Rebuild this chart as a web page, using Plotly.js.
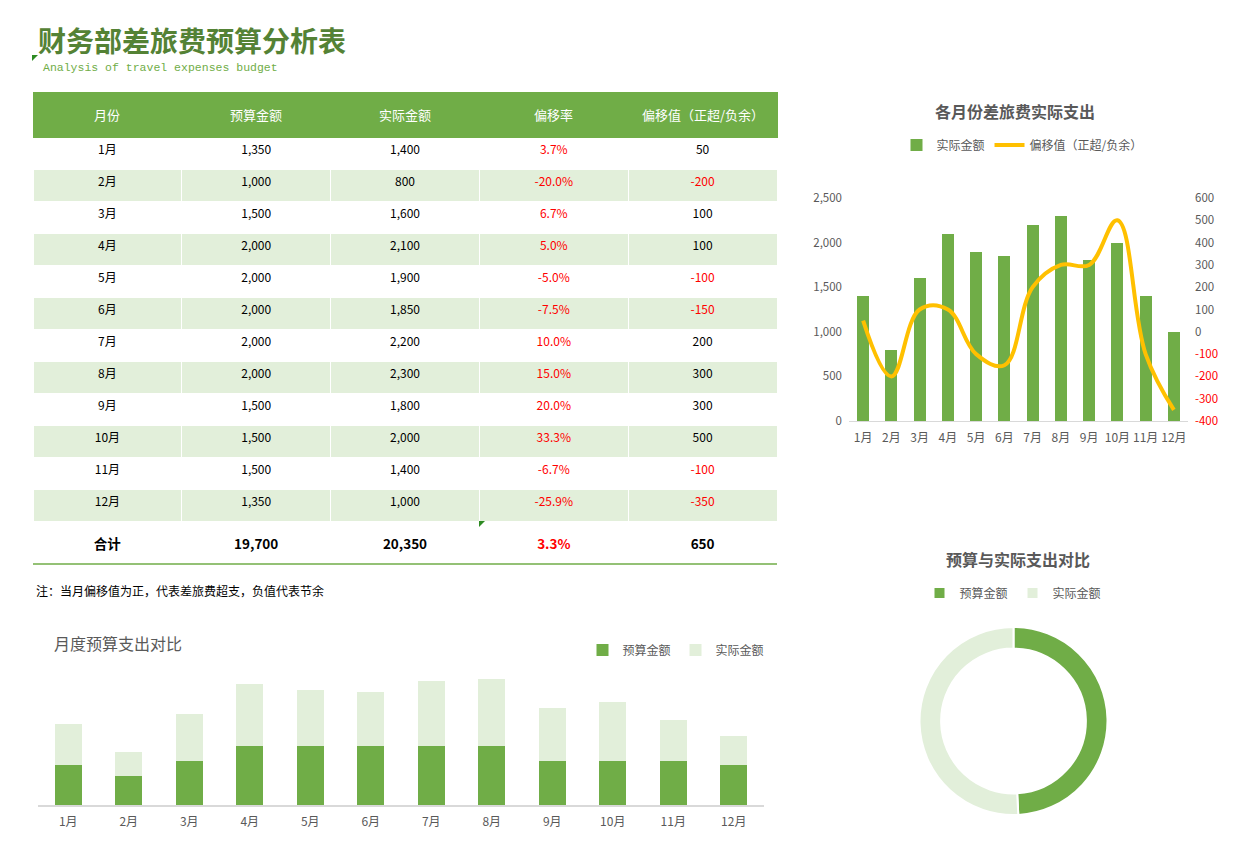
<!DOCTYPE html>
<html><head><meta charset="utf-8">
<script src="https://cdn.plot.ly/plotly-3.0.1.min.js"></script>
<style>html,body{margin:0;padding:0;background:#fff}#chart{width:1259px;height:865px}</style>
</head><body><div id="chart"></div>
<script>
// ---- data ----
const months = ['1月','2月','3月','4月','5月','6月','7月','8月','9月','10月','11月','12月'];
const budget = [1350,1000,1500,2000,2000,2000,2000,2000,1500,1500,1500,1350];
const actual = [1400,800,1600,2100,1900,1850,2200,2300,1800,2000,1400,1000];
const deviationRate = [3.7,-20.0,6.7,5.0,-5.0,-7.5,10.0,15.0,20.0,33.3,-6.7,-25.9];
const deviation = [50,-200,100,100,-100,-150,200,300,300,500,-100,-350];
const headers = ['月份','预算金额','实际金额','偏移率','偏移值（正超/负余）'];
const totalLabel = '合计';
const totalBudget = 19700;
const totalActual = 20350;
const totalRate = 3.3;
const totalDeviation = 650;
const rightTicks = [-400,-300,-200,-100,0,100,200,300,400,500,600];
const seriesNames = ['预算金额','实际金额','偏移值（正超/负余）'];

// ---- helpers ----
const W = 1259, H = 865;
const px = x => x / W;
const py = y => 1 - y / H;
const fmt = v => v.toLocaleString('en-US');
const pct = v => v.toFixed(1) + '%';
const FONT = '"Noto Sans CJK SC", "Noto Sans", sans-serif';
const GREEN = '#70ad47', LIGHT = '#e2efda', GREY = '#595959', RED = '#ff0000';

const TX0 = 33, TX1 = 777;
const colW = (TX1 - TX0) / headers.length;

const rowFill = months.map((m, i) => i % 2 === 0 ? '#ffffff' : LIGHT);
const blackCol = months.map(() => '#000000');
const rateCol = months.map(() => RED);
const devCol = deviation.map(v => v < 0 ? RED : '#000000');

const tableMain = {
  type: 'table',
  domain: {x: [px(TX0), px(TX1)], y: [py(523), py(92)]},
  columnwidth: [1,1,1,1,1],
  header: {
    values: headers.map(() => ''),
    height: 45,
    fill: {color: GREEN},
    line: {color: GREEN, width: 1},
    align: 'center',
    font: {family: FONT, size: 13, color: '#ffffff'}
  },
  cells: {
    values: [months, budget.map(fmt), actual.map(fmt), deviationRate.map(pct), deviation.map(String)],
    height: 32,
    fill: {color: [rowFill]},
    line: {color: '#ffffff', width: 1},
    align: 'center',
    font: {family: FONT, size: 12, color: [blackCol, blackCol, blackCol, rateCol, devCol]}
  }
};

const tableTotal = {
  type: 'table',
  domain: {x: [px(TX0), px(TX1)], y: [py(571), py(525)]},
  columnwidth: [1,1,1,1,1],
  header: {
    values: ['<b>' + totalLabel + '</b>', '<b>' + fmt(totalBudget) + '</b>', '<b>' + fmt(totalActual) + '</b>',
             '<b>' + pct(totalRate) + '</b>', '<b>' + String(totalDeviation) + '</b>'],
    height: 43,
    fill: {color: 'rgba(255,255,255,0)'},
    line: {color: 'rgba(255,255,255,0)', width: 0},
    align: 'center',
    font: {family: FONT, size: 13.5, color: ['#000000','#000000','#000000',RED,'#000000']}
  },
  cells: {values: [[],[],[],[],[]], height: 1, line: {color: 'rgba(255,255,255,0)', width: 0}, fill: {color: 'rgba(255,255,255,0)'}}
};

const barActual = {
  type: 'bar', x: months, y: actual, name: seriesNames[1],
  xaxis: 'x', yaxis: 'y', width: 0.43,
  marker: {color: GREEN}, legend: 'legend', hoverinfo: 'skip'
};
const lineDev = {
  type: 'scatter', mode: 'lines', x: months, y: deviation, name: seriesNames[2],
  xaxis: 'x', yaxis: 'y2',
  line: {color: '#ffc000', width: 4, shape: 'spline', smoothing: 1.1},
  legend: 'legend', hoverinfo: 'skip'
};
const stackBudget = {
  type: 'bar', x: months, y: budget, name: seriesNames[0],
  xaxis: 'x2', yaxis: 'y3', width: 0.45,
  marker: {color: GREEN}, legend: 'legend2', hoverinfo: 'skip'
};
const stackActual = {
  type: 'bar', x: months, y: actual, name: seriesNames[1],
  xaxis: 'x2', yaxis: 'y3', width: 0.45,
  marker: {color: LIGHT}, legend: 'legend2', hoverinfo: 'skip'
};
const donut = {
  type: 'pie', labels: [seriesNames[0], seriesNames[1]], values: [totalBudget, totalActual],
  hole: 0.77, sort: false, direction: 'clockwise', rotation: 0,
  marker: {colors: [GREEN, LIGHT], line: {color: '#ffffff', width: 2}},
  textinfo: 'none', hoverinfo: 'skip',
  domain: {x: [px(919), px(1108)], y: [py(815), py(627)]},
  legend: 'legend3'
};

const tickFont = {family: FONT, size: 12, color: GREY};
const yTickFont = {family: FONT, size: 11.5, color: GREY};
const legendFont = {family: FONT, size: 12, color: GREY};

const headerAnnots = headers.map((h, i) => ({
  text: h, x: px(TX0 + colW * (i + 0.5)), y: py(114), xref: 'paper', yref: 'paper',
  xanchor: 'center', yanchor: 'middle', showarrow: false, font: {family: FONT, size: 13, color: '#ffffff'}
}));

const layout = {
  width: W, height: H,
  margin: {l: 0, r: 0, t: 0, b: 0},
  paper_bgcolor: '#ffffff', plot_bgcolor: 'rgba(0,0,0,0)',
  font: {family: FONT, color: GREY},
  barmode: 'stack',
  xaxis: {domain: [px(849), px(1188)], anchor: 'y', type: 'category', showline: true, linecolor: '#d9d9d9',
          linewidth: 1, ticks: '', showgrid: false, zeroline: false, tickfont: tickFont, ticklabelstandoff: 6, fixedrange: true},
  yaxis: {domain: [py(421), py(198)], anchor: 'x', range: [0, 2500], dtick: 500, tickformat: ',',
          showgrid: false, zeroline: false, showline: false, ticks: '', tickfont: yTickFont, ticklabelstandoff: 6, fixedrange: true},
  yaxis2: {overlaying: 'y', side: 'right', anchor: 'x', range: [-400, 600],
           tickmode: 'array', tickvals: rightTicks,
           ticktext: rightTicks.map(v => v < 0 ? '<span style="color:#ff0000">' + v + '</span>' : String(v)),
           showgrid: false, zeroline: false, showline: false, ticks: '', tickfont: yTickFont, ticklabelstandoff: 6, fixedrange: true},
  xaxis2: {domain: [px(38), px(764)], anchor: 'y3', type: 'category', showline: true, linecolor: '#d9d9d9',
           linewidth: 1.5, ticks: '', showgrid: false, zeroline: false, tickfont: tickFont, ticklabelstandoff: 5, fixedrange: true},
  yaxis3: {domain: [py(805), py(665)], anchor: 'x2', range: [0, 4760], visible: false, fixedrange: true},
  legend: {orientation: 'h', x: px(1022), xanchor: 'center', y: py(145), yanchor: 'middle',
           font: legendFont, bgcolor: 'rgba(0,0,0,0)', traceorder: 'normal'},
  legend2: {orientation: 'h', x: px(676), xanchor: 'center', y: py(650), yanchor: 'middle',
            font: legendFont, bgcolor: 'rgba(0,0,0,0)', traceorder: 'normal'},
  legend3: {orientation: 'h', x: px(1013), xanchor: 'center', y: py(593), yanchor: 'middle',
            font: legendFont, bgcolor: 'rgba(0,0,0,0)', traceorder: 'normal'},
  annotations: headerAnnots.concat([
    {text: '<b>财务部差旅费预算分析表</b>', x: px(36), y: py(40), xref: 'paper', yref: 'paper',
     xanchor: 'left', yanchor: 'middle', showarrow: false, font: {family: FONT, size: 28, color: '#548235'}},
    {text: 'Analysis of travel expenses budget', x: px(41), y: py(68), xref: 'paper', yref: 'paper',
     xanchor: 'left', yanchor: 'middle', showarrow: false, font: {family: '"Liberation Mono", monospace', size: 11.5, color: GREEN}},
    {text: '注：当月偏移值为正，代表差旅费超支，负值代表节余', x: px(34), y: py(590), xref: 'paper', yref: 'paper',
     xanchor: 'left', yanchor: 'middle', showarrow: false, font: {family: FONT, size: 12, color: '#000000'}},
    {text: '<b>各月份差旅费实际支出</b>', x: px(1015), y: py(111), xref: 'paper', yref: 'paper',
     xanchor: 'center', yanchor: 'middle', showarrow: false, font: {family: FONT, size: 16, color: GREY}},
    {text: '月度预算支出对比', x: px(52), y: py(643), xref: 'paper', yref: 'paper',
     xanchor: 'left', yanchor: 'middle', showarrow: false, font: {family: FONT, size: 16, color: GREY}},
    {text: '<b>预算与实际支出对比</b>', x: px(1018), y: py(559), xref: 'paper', yref: 'paper',
     xanchor: 'center', yanchor: 'middle', showarrow: false, font: {family: FONT, size: 16, color: GREY}}
  ]),
  shapes: [
    {type: 'line', xref: 'paper', yref: 'paper', x0: px(TX0), x1: px(TX1), y0: py(564), y1: py(564),
     line: {color: GREEN, width: 1.5}},
    {type: 'path', xref: 'paper', yref: 'paper',
     path: 'M ' + px(32) + ' ' + py(55) + ' L ' + px(38) + ' ' + py(55) + ' L ' + px(32) + ' ' + py(61) + ' Z',
     fillcolor: '#2e8b22', line: {width: 0}},
    {type: 'path', xref: 'paper', yref: 'paper',
     path: 'M ' + px(479) + ' ' + py(521) + ' L ' + px(485) + ' ' + py(521) + ' L ' + px(479) + ' ' + py(527) + ' Z',
     fillcolor: '#2e8b22', line: {width: 0}}
  ]
};

Plotly.newPlot('chart', [tableMain, tableTotal, barActual, lineDev, stackBudget, stackActual, donut], layout,
  {displayModeBar: false, staticPlot: true});
</script></body></html>
